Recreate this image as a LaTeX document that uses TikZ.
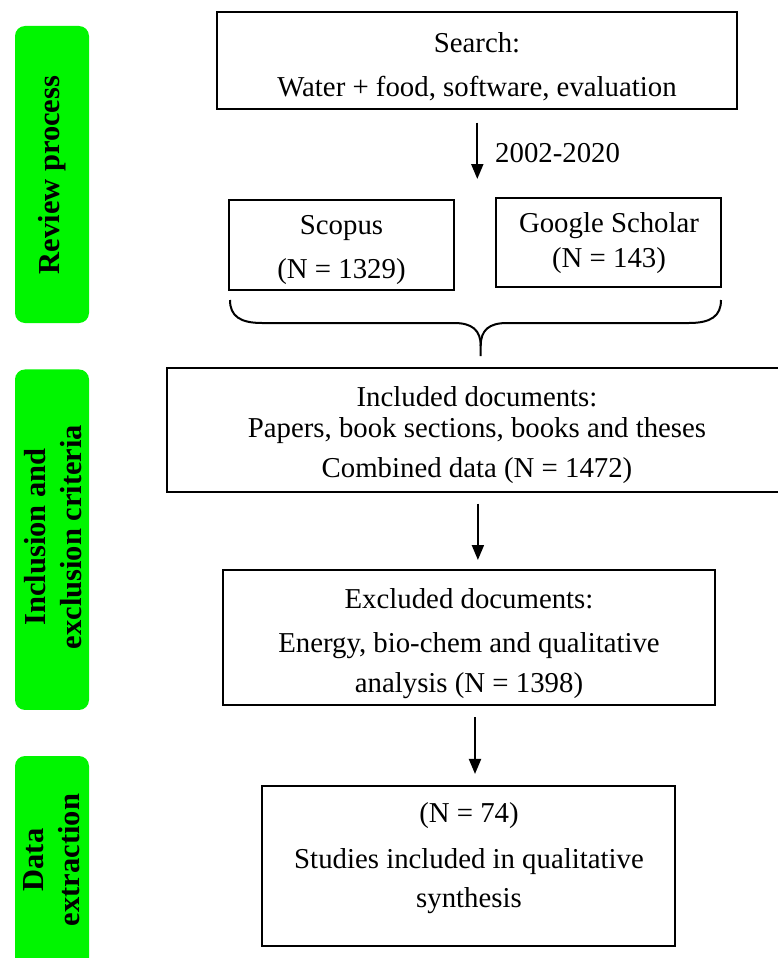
\documentclass[tikz,border=0pt]{standalone}
\usepackage{fontspec}
\setmainfont{Liberation Serif}
\usetikzlibrary{arrows.meta}
\definecolor{limegreen}{RGB}{0,245,0}
\begin{document}
\begin{tikzpicture}[x=1pt,y=-1pt,
  box/.style={draw, line width=2pt, inner sep=0pt},
  txt/.style={inner sep=0pt, font=\fontsize{28.8}{34}\selectfont},
  phase/.style={fill=limegreen, rounded corners=10pt, inner sep=0pt, minimum width=74pt},
  phasetxt/.style={inner sep=0pt, rotate=90, align=center, font=\fontsize{30.5}{36}\selectfont\bfseries},
  arr/.style={line width=2pt, -{Triangle[length=15pt,width=12pt]}},
  brace/.style={line width=2pt}
]
\clip (0,0) rectangle (778,958);
\fill[white] (0,0) rectangle (778,958);

% phase bars
\node[phase, minimum height=297pt] (g1) at (52,174.5) {};
\node[phase, minimum height=340.5pt] (g2) at (52,539.7) {};
\node[phase, minimum height=220pt] (g3) at (52,866) {};
\node[phasetxt] (g1t) at (52,175) {Review process};
\node[phasetxt] (g2t) at (53,537) {Inclusion and\\exclusion criteria};
\node[phasetxt] (g3t) at (52,860) {Data\\extraction};

% boxes
\node[box, minimum width=520pt, minimum height=97pt] (search) at (477.3,60.2) {};
\node[box, minimum width=225pt, minimum height=90pt] (scopus) at (341.5,245) {};
\node[box, minimum width=225pt, minimum height=89.6pt] (gs) at (608.2,242.5) {};
\node[box, minimum width=620pt, minimum height=124pt] (incl) at (476.9,429.7) {};
\node[box, minimum width=492.6pt, minimum height=135pt] (excl) at (469,637.5) {};
\node[box, minimum width=413pt, minimum height=160.5pt] (final) at (468.8,866.2) {};

% texts
\node[txt] (s1) at (477,42.7) {Search:};
\node[txt] (s2) at (477,89) {Water + food, software, evaluation};
\node[txt, anchor=west] (yr) at (495,153) {2002-2020};
\node[txt] (sc1) at (341.5,228) {Scopus};
\node[txt] (sc2) at (341.5,272) {(N = 1329)};
\node[txt] (gs1) at (609,226) {Google Scholar};
\node[txt] (gs2) at (609,261) {(N = 143)};
\node[txt] (i1) at (477,397) {Included documents:};
\node[txt] (i2) at (477,431) {Papers, book sections, books and theses};
\node[txt] (i3) at (477,471) {Combined data (N = 1472)};
\node[txt] (e1) at (469,599) {Excluded documents:};
\node[txt] (e2) at (469,646) {Energy, bio-chem and qualitative};
\node[txt] (e3) at (469,686) {analysis (N = 1398)};
\node[txt] (f1) at (469,816) {(N = 74)};
\node[txt] (f2) at (469,862) {Studies included in qualitative};
\node[txt] (f3) at (469,901) {synthesis};

% arrows
\draw[arr, shorten <=13pt, shorten >=20pt] (search.south) -- (search.south |- scopus.north);
\draw[arr, shorten <=11pt, shorten >=9pt] ([xshift=1pt]incl.south) -- ([xshift=1pt]incl.south |- excl.north);
\draw[arr, shorten <=11pt, shorten >=11pt] ([xshift=6pt]excl.south) -- ([xshift=6pt]excl.south |- final.north);

% brace
\coordinate (bl) at (230,300);
\coordinate (br) at (721,300);
\coordinate (bt) at (480.7,356);
\draw[brace] (bl) .. controls (230,316) and (240,323) .. (262,323)
  -- (454,323) .. controls (472,323) and (480.7,330) .. (480.7,346) -- (bt);
\draw[brace] (br) .. controls (721,316) and (711,323) .. (689,323)
  -- (507,323) .. controls (489,323) and (480.7,330) .. (480.7,346);
\end{tikzpicture}
\end{document}
